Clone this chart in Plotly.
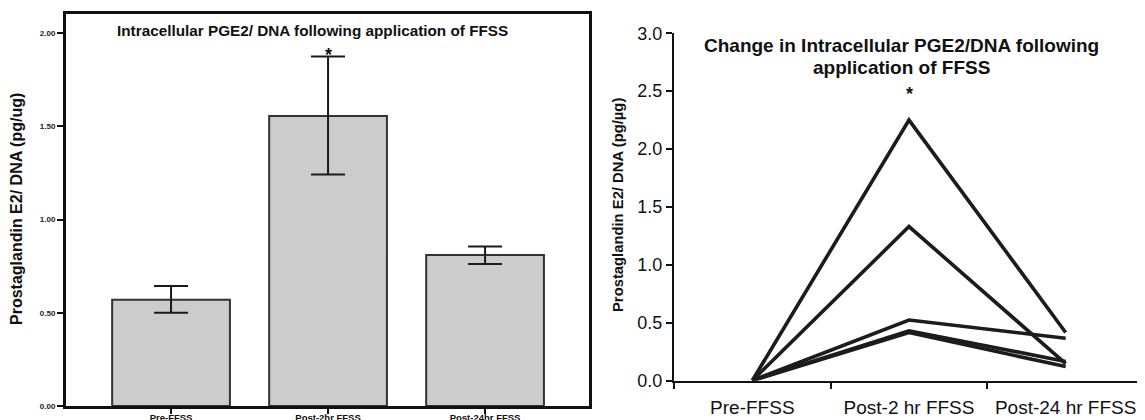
import plotly.graph_objects as go

# ---- Left panel data (mean with asymmetric error) ----
bar_categories = ["Pre-FFSS", "Post-2hr FFSS", "Post-24hr FFSS"]
bar_means = [0.57, 1.555, 0.81]
bar_err_upper = [0.643, 1.875, 0.855]
bar_err_lower = [0.50, 1.242, 0.762]
left_yticks = [0.0, 0.5, 1.0, 1.5, 2.0]

# ---- Right panel data (change per subject) ----
line_categories = ["Pre-FFSS", "Post-2 hr FFSS", "Post-24 hr FFSS"]
subject_a = [0.0, 2.25, 0.415]
subject_b = [0.0, 1.33, 0.145]
subject_c = [0.0, 0.523, 0.365]
subject_d = [0.0, 0.43, 0.165]
subject_e = [0.0, 0.415, 0.12]
subjects = [subject_a, subject_b, subject_c, subject_d, subject_e]
right_yticks = [0.0, 0.5, 1.0, 1.5, 2.0, 2.5, 3.0]

FONT = "Liberation Sans, Arial, sans-serif"
OFF = 8                      # page body margin of the html page
W, H = 1145 - OFF, 420 - OFF

def px_x(p):
    return (p - OFF) / W

def px_y(p):
    return 1 - (p - OFF) / H

fig = go.Figure()

err_plus = [u - m for u, m in zip(bar_err_upper, bar_means)]
err_minus = [m - l for m, l in zip(bar_means, bar_err_lower)]

fig.add_trace(go.Bar(
    x=bar_categories, y=bar_means, width=0.75,
    marker=dict(color="#cccccc", line=dict(color="#333333", width=2)),
    error_y=dict(type="data", symmetric=False, array=err_plus, arrayminus=err_minus,
                 color="#1a1a1a", thickness=2, width=17),
    xaxis="x", yaxis="y", showlegend=False,
))

for s in subjects:
    fig.add_trace(go.Scatter(
        x=line_categories, y=s, mode="lines",
        line=dict(color="#1c1c1c", width=3.6),
        xaxis="x2", yaxis="y2", showlegend=False,
    ))

fig.update_layout(
    width=W, height=H,
    margin=dict(l=0, r=0, t=0, b=0, autoexpand=False),
    paper_bgcolor="white", plot_bgcolor="white",
    font=dict(family=FONT, color="#111111"),
    xaxis=dict(
        domain=[px_x(66), px_x(589)],
        range=[-0.669, 2.662],
        type="category", automargin=False,
        showline=True, linecolor="#111111", linewidth=3, mirror=True,
        ticks="outside", ticklen=5, tickwidth=2, tickcolor="#111111",
        ticklabelstandoff=-4,
        tickfont=dict(size=9.5, family=FONT, color="#111111", weight="bold"),
        showgrid=False, zeroline=False, anchor="y",
    ),
    yaxis=dict(
        domain=[px_y(406), px_y(13.5)],
        range=[0, 2.105], automargin=False,
        tickvals=left_yticks, tickformat=".2f",
        showline=True, linecolor="#111111", linewidth=3, mirror=True,
        ticks="outside", ticklen=6, tickwidth=2, tickcolor="#111111",
        tickfont=dict(size=8, family=FONT, color="#222222", weight="bold"),
        showgrid=False, zeroline=False, anchor="x",
    ),
    xaxis2=dict(
        domain=[px_x(674), px_x(1144)],
        range=[-0.5, 2.5], automargin=False,
        type="category", tickson="boundaries",
        showline=True, linecolor="#111111", linewidth=2,
        ticks="outside", ticklen=6, tickwidth=2, tickcolor="#111111",
        ticklabelstandoff=9,
        tickfont=dict(size=19, family=FONT, color="#111111"),
        showgrid=False, zeroline=False, anchor="y2",
    ),
    yaxis2=dict(
        domain=[px_y(380.5), px_y(33.3)],
        range=[0, 3.0], automargin=False,
        tickvals=right_yticks, tickformat=".1f",
        showline=True, linecolor="#111111", linewidth=2,
        ticks="outside", ticklen=6, tickwidth=2, tickcolor="#111111",
        tickfont=dict(size=18, family=FONT, color="#111111"),
        showgrid=False, zeroline=False, anchor="x2",
    ),
    annotations=[
        dict(text="<b>Intracellular PGE2/ DNA following application of FFSS</b>",
             x=px_x(312), y=px_y(31), xref="paper", yref="paper",
             xanchor="center", yanchor="middle", showarrow=False,
             font=dict(size=15.3, family=FONT, color="#111111")),
        dict(text="<b>*</b>", x=bar_categories[1], y=bar_err_upper[1],
             xref="x", yref="y", xanchor="center", yanchor="bottom",
             yshift=-11, showarrow=False,
             font=dict(size=18, family=FONT, color="#111111")),
        dict(text="<b>Prostaglandin E2/ DNA (pg/ug)</b>",
             x=px_x(16), y=px_y(209), xref="paper", yref="paper",
             xanchor="center", yanchor="middle", textangle=-90, showarrow=False,
             font=dict(size=16, family=FONT, color="#111111")),
        dict(text="<b>Change in Intracellular PGE2/DNA following</b>",
             x=px_x(901), y=px_y(46), xref="paper", yref="paper",
             xanchor="center", yanchor="middle", showarrow=False,
             font=dict(size=19, family=FONT, color="#111111")),
        dict(text="<b>application of FFSS</b>",
             x=px_x(901), y=px_y(67), xref="paper", yref="paper",
             xanchor="center", yanchor="middle", showarrow=False,
             font=dict(size=19, family=FONT, color="#111111")),
        dict(text="<b>*</b>", x=line_categories[1], y=max(s[1] for s in subjects),
             xref="x2", yref="y2", xanchor="center", yanchor="bottom",
             yshift=14, showarrow=False,
             font=dict(size=18, family=FONT, color="#111111")),
        dict(text="<b>Prostaglandin E2/ DNA (pg/µg)</b>",
             x=px_x(618), y=px_y(205), xref="paper", yref="paper",
             xanchor="center", yanchor="middle", textangle=-90, showarrow=False,
             font=dict(size=14.8, family=FONT, color="#111111")),
    ],
)

fig.write_html("out.html")
